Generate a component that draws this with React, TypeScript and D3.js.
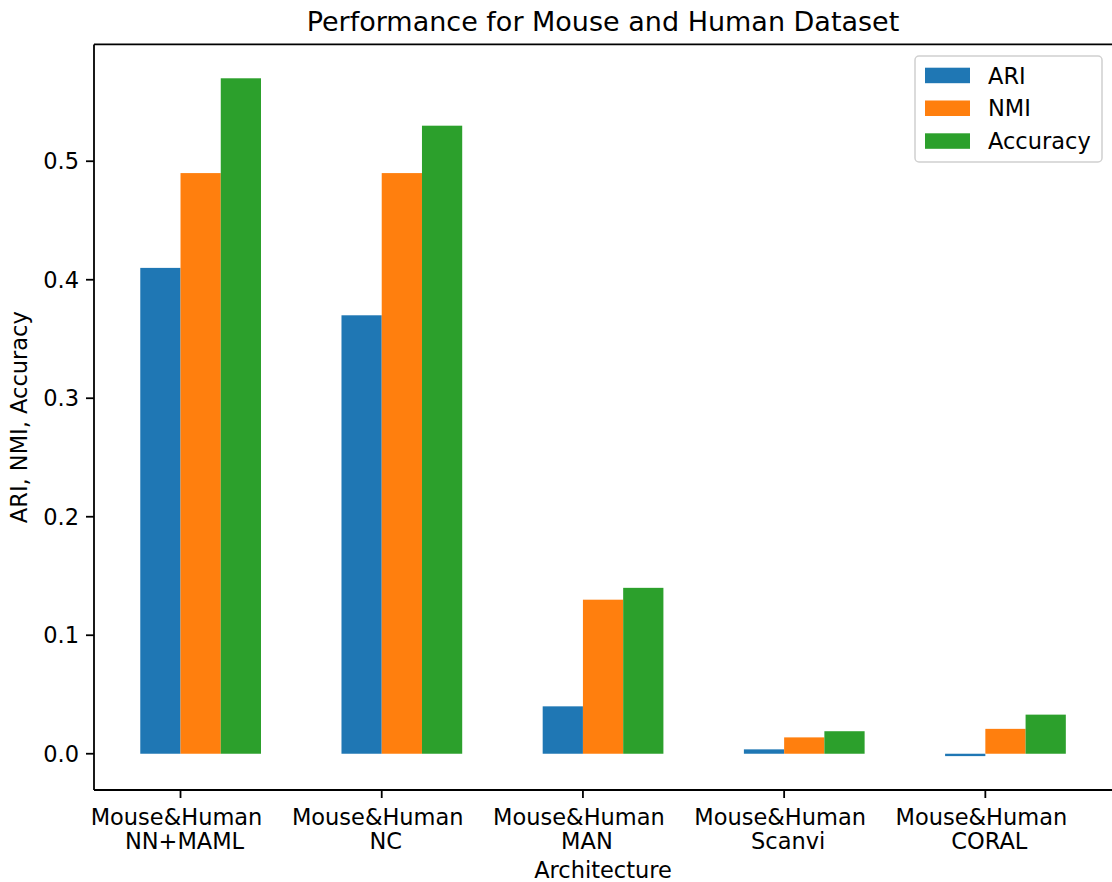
import React from 'react';
import * as d3 from 'd3';

const width = 1112;
const height = 882;
const font = 'DejaVu Sans';

const categories = ['NN+MAML', 'NC', 'MAN', 'Scanvi', 'CORAL'];
const prefix = 'Mouse&Human';
const series = ['ARI', 'NMI', 'Accuracy'];
const ari = [0.41, 0.37, 0.04, 0.0037, -0.002];
const nmi = [0.49, 0.49, 0.13, 0.0138, 0.021];
const accuracy = [0.57, 0.53, 0.14, 0.019, 0.033];
const yTicks = [0, 0.1, 0.2, 0.3, 0.4, 0.5];
const colors = ['#1f77b4', '#ff7f0e', '#2ca02c'];

const values = [ari, nmi, accuracy];
const barWidth = 0.2;

const plotLeft = 94;
const plotTop = 44.4;
const plotBottom = 790;

const x = d3.scaleLinear().domain([-0.43, 4.63]).range([plotLeft, 1112.1]);
const y = d3.scaleLinear().domain([-0.0306, 0.5986]).range([plotBottom, plotTop]);

const App = () => {
  const unit = x(1) - x(0);
  return (
    <svg
      width={width}
      height={height}
      style={{ position: 'absolute', left: 0, top: 0, background: 'white' }}
      fontFamily={font}
    >
      {/* bars */}
      {values.map((vals, s) =>
        vals.map((v, i) => (
          <rect
            key={`${s}-${i}`}
            x={x(i + (s - 1) * barWidth)}
            width={barWidth * unit}
            y={Math.min(y(v), y(0))}
            height={Math.abs(y(v) - y(0))}
            fill={colors[s]}
          />
        ))
      )}

      {/* spines */}
      <line x1={plotLeft} x2={plotLeft} y1={plotTop} y2={plotBottom} stroke="#000" strokeWidth={1.8} />
      <line x1={plotLeft} x2={width + 10} y1={plotTop} y2={plotTop} stroke="#000" strokeWidth={1.8} />
      <line x1={plotLeft} x2={width + 10} y1={plotBottom} y2={plotBottom} stroke="#000" strokeWidth={1.8} />

      {/* y ticks */}
      {yTicks.map(t => (
        <g key={t} transform={`translate(0,${y(t)})`}>
          <line x1={plotLeft - 8} x2={plotLeft} stroke="#000" strokeWidth={1.8} />
          <text x={plotLeft - 15} dy="0.36em" textAnchor="end" fontSize={22.5}>
            {t.toFixed(1)}
          </text>
        </g>
      ))}

      {/* x ticks */}
      {categories.map((c, i) => (
        <g key={c} transform={`translate(${x(i)},0)`}>
          <line y1={plotBottom} y2={plotBottom + 8} stroke="#000" strokeWidth={1.8} />
          <text x={-4} y={824.5} textAnchor="middle" fontSize={22.5}>{prefix}</text>
          <text x={4} y={848.5} textAnchor="middle" fontSize={22.5}>{c}</text>
        </g>
      ))}

      {/* labels */}
      <text x={603} y={31} textAnchor="middle" fontSize={27}>
        Performance for Mouse and Human Dataset
      </text>
      <text x={603} y={878} textAnchor="middle" fontSize={22.5}>Architecture</text>
      <text
        transform={`translate(27,${(plotTop + plotBottom) / 2}) rotate(-90)`}
        textAnchor="middle"
        fontSize={22.5}
      >
        ARI, NMI, Accuracy
      </text>

      {/* legend */}
      <g>
        <rect x={915} y={56} width={187} height={106} rx={4} fill="white" fillOpacity={0.8} stroke="#d0d0d0" strokeWidth={1.5} />
        {series.map((s, k) => (
          <g key={s} transform={`translate(0,${67.7 + k * 32.8})`}>
            <rect x={925} y={0} width={45} height={15.5} fill={colors[k]} />
            <text x={988} y={7.7} dy="0.36em" fontSize={22.5}>{s}</text>
          </g>
        ))}
      </g>
    </svg>
  );
};

export default App;
